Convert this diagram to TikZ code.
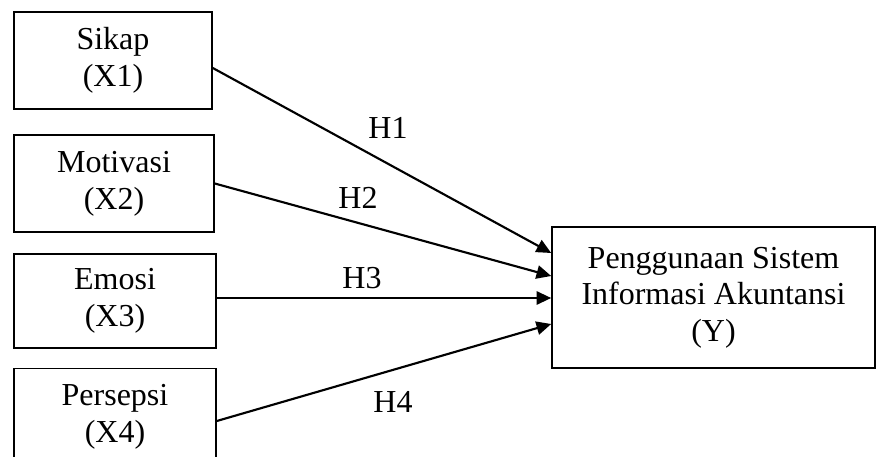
\documentclass[tikz,border=0pt]{standalone}
\usepackage{fontspec}
\setmainfont{Liberation Serif}
\usetikzlibrary{calc,arrows.meta}

\tikzset{
  varbox/.style={draw, line width=1.2pt, align=center, inner sep=0pt,
    font=\fontsize{24}{27.5}\selectfont},
  hyp/.style={line width=1.6pt, -{Triangle[length=11pt,width=10pt]}},
  hlabel/.style={font=\fontsize{24}{27.5}\selectfont, inner sep=0pt}
}

\begin{document}
\begin{tikzpicture}[x=0.75pt,y=-0.75pt]
  \useasboundingbox (0,0) rectangle (876,457);
  \clip (0,0) rectangle (876,457);

  \node[varbox, minimum width=198*0.75pt, minimum height=97*0.75pt] (sikap) at (113,60.5) {Sikap\\(X1)};
  \node[varbox, minimum width=200*0.75pt, minimum height=97*0.75pt] (motivasi) at (114,183.5) {Motivasi\\(X2)};
  \node[varbox, minimum width=202*0.75pt, minimum height=94*0.75pt] (emosi) at (115,301) {Emosi\\(X3)};
  \node[varbox, minimum width=202*0.75pt, minimum height=97*0.75pt] (persepsi) at (115,417) {Persepsi\\(X4)};

  \node[varbox, minimum width=323*0.75pt, minimum height=141*0.75pt] (sia) at (713.5,297.5)
    {Penggunaan Sistem\\Informasi Akuntansi\\(Y)};

  \draw[hyp] ($(sikap.east)+(0,7.5)$) -- ($(sia.west)+(0,-44.5)$);
  \draw[hyp] (motivasi.east) -- ($(sia.west)+(0,-21.5)$);
  \draw[hyp] ($(emosi.east)+(0,-3)$) -- ($(sia.west)+(0,0.5)$);
  \draw[hyp] ($(persepsi.east)+(0,4)$) -- ($(sia.west)+(0,26.5)$);

  \node[hlabel] (h1) at (388,128) {H1};
  \node[hlabel] (h2) at (358,198) {H2};
  \node[hlabel] (h3) at (362,278) {H3};
  \node[hlabel] (h4) at (393,402) {H4};
\end{tikzpicture}
\end{document}
